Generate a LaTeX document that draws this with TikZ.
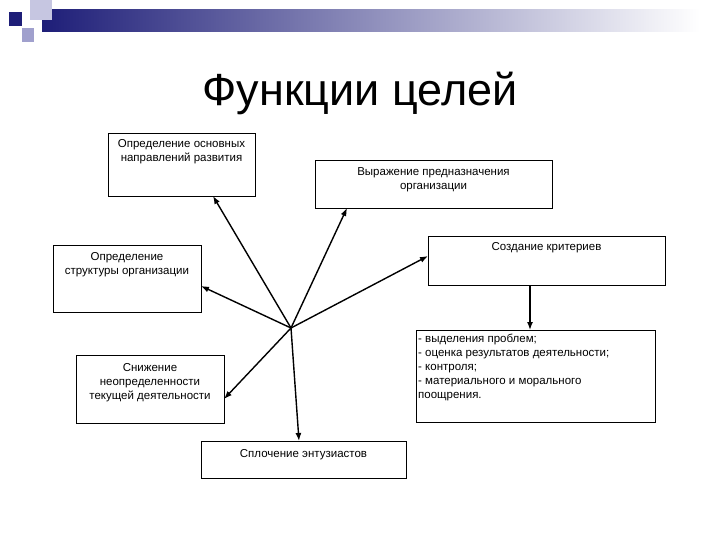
\documentclass[tikz,border=0pt]{standalone}
\usepackage{fontspec}
\usetikzlibrary{arrows.meta}
\setmainfont{Liberation Sans}
\definecolor{navy}{RGB}{30,30,120}
\definecolor{lav}{RGB}{160,160,205}
\begin{document}
\begin{tikzpicture}[x=1pt,y=-1pt,
  txt/.style={font=\fontsize{11.5}{14}\selectfont,align=center},
  arr/.style={-{Latex[length=8pt,width=6pt]},line width=1.4pt}]
\useasboundingbox (0,0) rectangle (720,540);
\fill[white] (0,0) rectangle (720,540);
\shade[left color=navy,right color=white] (42,10) rectangle (700,32);
\fill[lav!60] (30,0) rectangle (52,20);
\fill[lav] (22,28) rectangle (34,42);
\fill[navy] (9,12) rectangle (22,26);
\node[font=\fontsize{45}{48}\selectfont] (title) at (360,93) {Функции целей};
\draw[thick] (108,133) rectangle (255,196);
\node[txt,anchor=north] (A) at (181.5,136) {Определение основных\\направлений развития};
\draw[thick] (315,160) rectangle (552,208);
\node[txt,anchor=north] (B) at (433.5,164) {Выражение предназначения\\организации};
\draw[thick] (428,236) rectangle (665,285);
\node[txt,anchor=north] (C) at (546.5,239) {Создание критериев};
\draw[thick] (53,245) rectangle (201,312);
\node[txt,anchor=north] (D) at (127,249) {Определение\\структуры организации};
\draw[thick] (416,330) rectangle (655,422);
\node[txt,align=left,anchor=north west,inner sep=2pt] (E) at (416,332) {- выделения проблем;\\- оценка результатов деятельности;\\- контроля;\\- материального и морального\\поощрения.};
\draw[thick] (76,355) rectangle (224,423);
\node[txt,anchor=north] (F) at (150,360) {Снижение\\неопределенности\\текущей деятельности};
\draw[thick] (201,441) rectangle (406,478);
\node[txt,anchor=north] (G) at (303.5,446) {Сплочение энтузиастов};
\coordinate (ctr) at (291,328);
\coordinate (pA) at (213,196);
\coordinate (pB) at (347,208);
\coordinate (pC) at (428,256);
\coordinate (pD) at (201,286);
\coordinate (pF) at (224,399);
\coordinate (pG) at (299,441);
\coordinate (c1) at (530,285);
\coordinate (c2) at (530,330);
\foreach \p in {pA,pB,pC,pD,pF,pG} \draw[arr] (ctr) -- (\p);
\draw[arr] (c1) -- (c2);
\end{tikzpicture}
\end{document}
